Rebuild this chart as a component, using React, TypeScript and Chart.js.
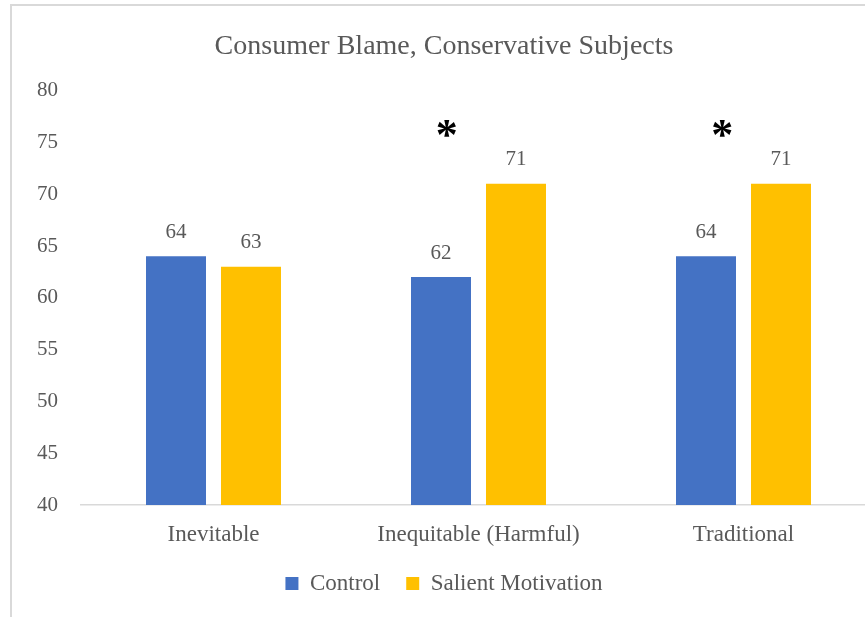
import React, { useEffect, useRef } from "react";
import { Chart, registerables } from "chart.js";

Chart.register(...registerables);

const categories = ["Inevitable", "Inequitable (Harmful)", "Traditional"];
const controlValues = [64, 62, 64];
const salientValues = [63, 71, 71];
const seriesNames = ["Control", "Salient Motivation"];
const significantCategories = ["Inequitable (Harmful)", "Traditional"];
const yMin = 40;
const yMax = 80;
const yStep = 5;

const TEXT = "#595959";
const FONT = "'Liberation Serif', 'Times New Roman', serif";

const labelPlugin = {
  id: "valueLabels",
  afterDatasetsDraw(chart: any) {
    const ctx = chart.ctx;
    ctx.save();
    ctx.font = `21px ${FONT}`;
    ctx.fillStyle = TEXT;
    ctx.textAlign = "center";
    ctx.textBaseline = "middle";
    chart.data.datasets.forEach((ds: any, di: number) => {
      const meta = chart.getDatasetMeta(di);
      meta.data.forEach((bar: any, i: number) => {
        ctx.fillText(String(ds.data[i]), bar.x, bar.y - 24);
      });
    });
    ctx.restore();
  },
};

const asteriskPlugin = {
  id: "asterisks",
  afterDatasetsDraw(chart: any, _args: any, opts: any) {
    const ctx = chart.ctx;
    const xs = chart.scales.x;
    const ys = chart.scales.y;
    const catWidth = xs.width / categories.length;
    ctx.save();
    ctx.font = `bold 44px ${FONT}`;
    ctx.fillStyle = "#000000";
    ctx.textAlign = "center";
    ctx.textBaseline = "middle";
    significantCategories.forEach((c, k) => {
      const idx = categories.indexOf(c);
      const x = xs.getPixelForValue(idx) + (opts.offsets[k] || 0) * catWidth;
      const y = ys.getPixelForValue(opts.level) + 8;
      ctx.fillText("*", x, y);
    });
    ctx.restore();
  },
};

export default function App() {
  const ref = useRef<HTMLCanvasElement>(null);
  useEffect(() => {
    if (!ref.current) return;
    const chart = new Chart(ref.current, {
      type: "bar",
      data: {
        labels: categories,
        datasets: [
          {
            label: seriesNames[0],
            data: controlValues,
            backgroundColor: "#4472C4",
            categoryPercentage: 0.566,
            barPercentage: 0.8,
          },
          {
            label: seriesNames[1],
            data: salientValues,
            backgroundColor: "#FFC000",
            categoryPercentage: 0.566,
            barPercentage: 0.8,
          },
        ],
      },
      options: {
        responsive: false,
        animation: false,
        layout: { padding: { left: 0, right: 16, top: 0, bottom: 41 } },
        plugins: {
          title: {
            display: true,
            text: "Consumer Blame, Conservative Subjects",
            color: TEXT,
            font: { family: FONT, size: 28, weight: "normal" },
            padding: { top: 24, bottom: 27 },
          },
          legend: {
            position: "bottom",
            labels: {
              color: TEXT,
              font: { family: FONT, size: 23 },
              boxWidth: 13,
              boxHeight: 13,
              padding: 26,
            },
          },
          tooltip: { enabled: false },
          asterisks: { level: 76.2, offsets: [-0.12, -0.08] },
        } as any,
        scales: {
          x: {
            grid: { display: false, drawTicks: false },
            border: { display: true, color: "#d9d9d9", width: 1.5 },
            ticks: {
              color: TEXT,
              font: { family: FONT, size: 23 },
              padding: 16,
            },
            afterFit(scale: any) {
              scale.height = 41;
            },
          },
          y: {
            min: yMin,
            max: yMax,
            grid: { display: false, drawTicks: false },
            border: { display: false },
            ticks: {
              stepSize: yStep,
              color: TEXT,
              font: { family: FONT, size: 21 },
              padding: 23,
            },
            afterFit(scale: any) {
              scale.width = 69;
            },
          },
        },
      },
      plugins: [labelPlugin, asteriskPlugin],
    });
    return () => chart.destroy();
  }, []);

  return (
    <div
      style={{
        position: "fixed",
        left: 0,
        top: 0,
        width: 865,
        height: 617,
        overflow: "hidden",
        background: "#ffffff",
      }}
    >
      <div
        style={{
          position: "absolute",
          left: 10,
          top: 4,
          width: 880,
          height: 660,
          border: "2px solid #d9d9d9",
          boxSizing: "border-box",
        }}
      />
      <canvas
        ref={ref}
        width={880}
        height={640}
        style={{ position: "absolute", left: 12, top: 6, width: 880, height: 640 }}
      />
    </div>
  );
}
